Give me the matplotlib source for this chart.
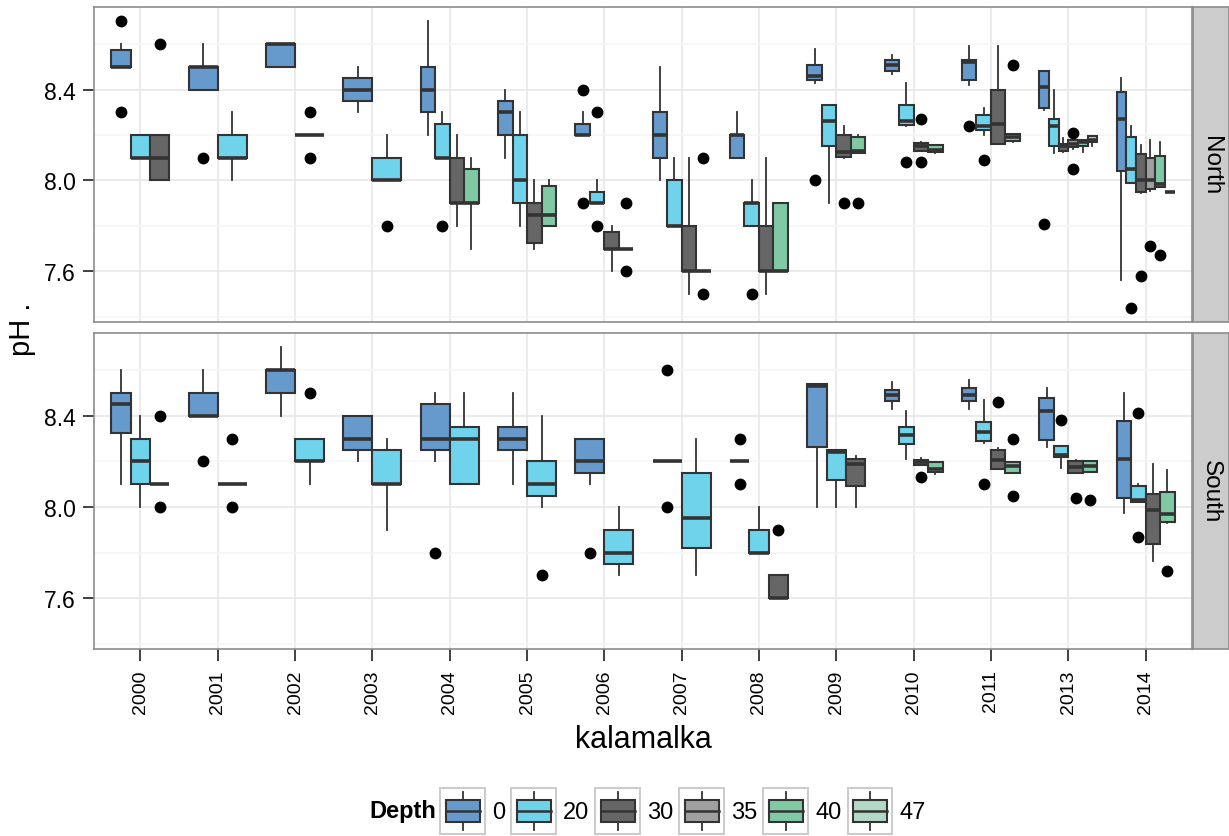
"""pH by year and depth for Kalamalka, North and South basins (ggplot-style boxplots)."""

import matplotlib
matplotlib.use("Agg")
import matplotlib.pyplot as plt
from matplotlib.patches import Rectangle, Patch
from matplotlib.lines import Line2D
from matplotlib.legend_handler import HandlerBase

plt.rcParams["font.family"] = ["Liberation Sans", "DejaVu Sans"]

YEARS = ["2000", "2001", "2002", "2003", "2004", "2005", "2006", "2007",
         "2008", "2009", "2010", "2011", "2013", "2014"]
DEPTHS = ["0", "20", "30", "35", "40", "47"]
DEPTH_COLORS = ["#6699cc", "#6fd3ec", "#666666", "#a0a0a0", "#7fc9a5", "#b3d8c6"]
PANELS = ["North", "South"]

# box stats per year: (lower whisker, q1, median, q3, upper whisker), None = no samples
north_0 = [(8.5, 8.5, 8.5, 8.575, 8.6), (8.4, 8.4, 8.5, 8.5, 8.6), (8.5, 8.5, 8.6, 8.6, 8.6),
           (8.3, 8.35, 8.4, 8.45, 8.5), (8.2, 8.3, 8.4, 8.5, 8.7), (8.1, 8.2, 8.3, 8.35, 8.4),
           (8.2, 8.2, 8.2, 8.25, 8.3), (8.0, 8.1, 8.2, 8.3, 8.5), (8.1, 8.1, 8.2, 8.2, 8.3),
           (8.43, 8.44, 8.46, 8.51, 8.58), (8.47, 8.48, 8.51, 8.53, 8.55),
           (8.42, 8.44, 8.52, 8.53, 8.59), (8.31, 8.32, 8.41, 8.48, 8.48),
           (7.56, 8.04, 8.27, 8.39, 8.45)]
north_0_out = [[8.7, 8.3], [8.1], [], [], [], [], [8.4, 7.9], [], [], [8.0], [], [8.24], [7.81], []]

north_20 = [(8.1, 8.1, 8.1, 8.2, 8.2), (8.0, 8.1, 8.1, 8.2, 8.3), (8.2, 8.2, 8.2, 8.2, 8.2),
            (8.0, 8.0, 8.0, 8.1, 8.2), (8.1, 8.1, 8.1, 8.25, 8.3), (7.8, 7.9, 8.0, 8.2, 8.3),
            (7.9, 7.9, 7.9, 7.95, 8.0), (7.8, 7.8, 7.8, 8.0, 8.1), (7.8, 7.8, 7.9, 7.9, 8.0),
            (7.9, 8.15, 8.26, 8.33, 8.33), (8.24, 8.245, 8.26, 8.33, 8.43),
            (8.2, 8.22, 8.24, 8.29, 8.32), (8.12, 8.15, 8.24, 8.27, 8.4),
            (7.99, 7.99, 8.05, 8.19, 8.24)]
north_20_out = [[], [], [8.3, 8.1], [7.8], [7.8], [], [8.3, 7.8], [], [7.5], [], [8.08], [8.09], [], [7.44]]

north_30 = [(8.0, 8.0, 8.1, 8.2, 8.2), None, None, None, (7.8, 7.9, 7.9, 8.1, 8.2),
            (7.7, 7.725, 7.85, 7.9, 8.0), (7.6, 7.7, 7.7, 7.775, 7.8), (7.5, 7.6, 7.6, 7.8, 8.1),
            (7.5, 7.6, 7.6, 7.8, 8.1), (8.1, 8.105, 8.125, 8.2, 8.24),
            (8.13, 8.13, 8.15, 8.165, 8.17), (8.16, 8.16, 8.25, 8.4, 8.59),
            (8.125, 8.13, 8.15, 8.16, 8.186), (7.945, 7.95, 8.0, 8.116, 8.156)]
north_30_out = [[8.6], [], [], [], [], [], [], [], [], [7.9], [8.27, 8.08], [], [], [7.58]]

north_35 = [None] * 12 + [(8.14, 8.146, 8.16, 8.179, 8.18), (7.955, 7.961, 8.0, 8.1, 8.179)]
north_35_out = [[]] * 12 + [[8.21, 8.05], [7.71]]

north_40 = [None, None, None, None, (7.7, 7.9, 7.9, 8.05, 8.1), (7.8, 7.8, 7.85, 7.975, 8.0),
            (7.7, 7.7, 7.7, 7.7, 7.7), (7.6, 7.6, 7.6, 7.6, 7.6), (7.6, 7.6, 7.6, 7.9, 7.9),
            (8.12, 8.12, 8.13, 8.19, 8.2), (8.12, 8.124, 8.135, 8.156, 8.156),
            (8.17, 8.175, 8.19, 8.204, 8.204), (8.124, 8.153, 8.17, 8.179, 8.179),
            (7.97, 7.971, 7.986, 8.109, 8.168)]
north_40_out = [[], [], [], [], [], [], [7.9, 7.6], [8.1, 7.5], [], [7.9], [], [8.51], [], [7.67]]

north_47 = [None] * 12 + [(8.153, 8.167, 8.18, 8.196, 8.196), (7.95, 7.95, 7.95, 7.95, 7.95)]
north_47_out = [[]] * 14

south_0 = [(8.1, 8.325, 8.45, 8.5, 8.6), (8.4, 8.4, 8.4, 8.5, 8.6), (8.4, 8.5, 8.6, 8.6, 8.7),
           (8.2, 8.25, 8.3, 8.4, 8.4), (8.2, 8.25, 8.3, 8.45, 8.5), (8.1, 8.25, 8.3, 8.35, 8.5),
           (8.1, 8.15, 8.2, 8.3, 8.3), (8.2, 8.2, 8.2, 8.2, 8.2), (8.2, 8.2, 8.2, 8.2, 8.2),
           (8.0, 8.265, 8.53, 8.54, 8.54), (8.43, 8.463, 8.49, 8.514, 8.548),
           (8.43, 8.463, 8.49, 8.52, 8.557), (8.262, 8.295, 8.422, 8.476, 8.52),
           (7.974, 8.039, 8.211, 8.376, 8.5)]
south_0_out = [[], [8.2], [], [], [7.8], [], [7.8], [8.6, 8.0], [8.3, 8.1], [], [], [], [], []]

south_20 = [(8.0, 8.1, 8.2, 8.3, 8.4), (8.1, 8.1, 8.1, 8.1, 8.1), (8.1, 8.2, 8.2, 8.3, 8.3),
            (7.9, 8.1, 8.1, 8.25, 8.3), (8.1, 8.1, 8.3, 8.35, 8.5), (8.0, 8.05, 8.1, 8.2, 8.4),
            (7.7, 7.75, 7.8, 7.9, 8.0), (7.7, 7.822, 7.952, 8.15, 8.3), (7.8, 7.8, 7.8, 7.9, 8.0),
            (8.0, 8.12, 8.24, 8.25, 8.25), (8.211, 8.276, 8.316, 8.352, 8.419),
            (8.28, 8.291, 8.328, 8.374, 8.469), (8.172, 8.218, 8.228, 8.266, 8.266),
            (8.022, 8.022, 8.03, 8.094, 8.1)]
south_20_out = [[], [8.3, 8.0], [8.5], [], [], [7.7], [], [], [], [], [], [8.1], [8.38], [8.41, 7.87]]

south_30 = [(8.1, 8.1, 8.1, 8.1, 8.1), None, None, None, None, None, None, None,
            (7.6, 7.6, 7.6, 7.7, 7.7), (8.0, 8.094, 8.189, 8.211, 8.225),
            (8.186, 8.186, 8.197, 8.207, 8.215), (8.167, 8.167, 8.207, 8.25, 8.26),
            (8.15, 8.15, 8.175, 8.2, 8.205), (7.762, 7.837, 7.988, 8.058, 8.189)]
south_30_out = [[8.4, 8.0], [], [], [], [], [], [], [], [7.9], [], [8.13], [8.46], [8.04], []]

south_35 = [None] * 14
south_35_out = [[]] * 14

south_40 = [None] * 10 + [(8.145, 8.153, 8.167, 8.196, 8.196), (8.15, 8.15, 8.18, 8.196, 8.196),
                          (8.153, 8.153, 8.18, 8.2, 8.2), (7.93, 7.934, 7.971, 8.065, 8.16)]
south_40_out = [[]] * 10 + [[], [8.3, 8.05], [8.03], [7.72]]

south_47 = [None] * 14
south_47_out = [[]] * 14

north_stats = [north_0, north_20, north_30, north_35, north_40, north_47]
north_outs = [north_0_out, north_20_out, north_30_out, north_35_out, north_40_out, north_47_out]
south_stats = [south_0, south_20, south_30, south_35, south_40, south_47]
south_outs = [south_0_out, south_20_out, south_30_out, south_35_out, south_40_out, south_47_out]

EDGE = "#333333"
W_PX, H_PX = 1229, 837


def ylimits():
    vals = []
    for group in north_stats + south_stats:
        for s in group:
            if s is not None:
                vals.extend(s)
    for group in north_outs + south_outs:
        for o in group:
            vals.extend(o)
    lo, hi = min(vals), max(vals)
    pad = (hi - lo) * 0.05
    return lo - pad, hi + pad


def draw_panel(ax, stats, outs):
    for i in range(len(YEARS)):
        present = [d for d in range(len(DEPTHS)) if stats[d][i] is not None]
        w = 0.75 / len(present)
        for k, d in enumerate(present):
            lo, q1, med, q3, hi = stats[d][i]
            box = dict(whislo=lo, q1=q1, med=med, q3=q3, whishi=hi, fliers=outs[d][i])
            pos = i - 0.375 + (k + 0.5) * w
            ax.bxp([box], positions=[pos], widths=w, patch_artist=True,
                   showcaps=False, manage_ticks=False,
                   boxprops=dict(facecolor=DEPTH_COLORS[d], edgecolor=EDGE, linewidth=1.5),
                   medianprops=dict(color=EDGE, linewidth=2.6, solid_capstyle="butt"),
                   whiskerprops=dict(color=EDGE, linewidth=1.3),
                   flierprops=dict(marker="o", markerfacecolor="black",
                                   markeredgecolor="black", markersize=7.5))


def style_axis(ax, ylim, bottom):
    ax.set_xlim(-0.6, len(YEARS) - 0.4)
    ax.set_ylim(*ylim)
    ax.set_facecolor("white")
    ax.set_yticks([7.6, 8.0, 8.4])
    ax.set_yticklabels(["7.6", "8.0", "8.4"])
    ax.set_yticks([7.4, 7.8, 8.2, 8.6], minor=True)
    ax.set_xticks(range(len(YEARS)))
    ax.grid(True, which="major", color="#e5e5e5", linewidth=1.1)
    ax.grid(True, which="minor", axis="y", color="#f5f5f5", linewidth=1.1)
    ax.set_axisbelow(True)
    for sp in ax.spines.values():
        sp.set_color("#8c8c8c")
        sp.set_linewidth(1.2)
    ax.tick_params(axis="y", which="major", length=8, width=1.3, color="#333333",
                   labelsize=16.5, pad=5)
    ax.tick_params(axis="x", which="major", length=8.5, width=1.3, color="#333333",
                   labelsize=14, pad=6)
    ax.tick_params(axis="y", which="minor", length=0)
    if bottom:
        ax.set_xticklabels(YEARS, rotation=90, va="top", ha="center")
    else:
        ax.tick_params(axis="x", length=0, labelbottom=False)


def add_strip(fig, ax, label):
    pos = ax.get_position()
    sax = fig.add_axes([pos.x1 + 1 / W_PX, pos.y0, 36 / W_PX, pos.height])
    sax.set_facecolor("#cccccc")
    sax.set_xticks([])
    sax.set_yticks([])
    for sp in sax.spines.values():
        sp.set_color("#8c8c8c")
        sp.set_linewidth(1.2)
    sax.text(0.5, 0.5, label, rotation=-90, ha="center", va="center",
             fontsize=17.5, transform=sax.transAxes)


class BoxKey(HandlerBase):
    def create_artists(self, legend, orig_handle, xdescent, ydescent,
                       width, height, fontsize, trans):
        x0, y0 = -xdescent, -ydescent
        bg = Rectangle((x0, y0), width, height, facecolor="white",
                       edgecolor="#cccccc", linewidth=1.5, transform=trans)
        bw, bh = width * 0.76, height * 0.5
        bx, by = x0 + (width - bw) / 2, y0 + height * 0.25
        xm = x0 + width / 2
        lo = Line2D([xm, xm], [y0 + height * 0.09, by], color=EDGE, lw=1.3, transform=trans)
        hi = Line2D([xm, xm], [by + bh, y0 + height * 0.91], color=EDGE, lw=1.3, transform=trans)
        box = Rectangle((bx, by), bw, bh, facecolor=orig_handle.get_facecolor(),
                        edgecolor=EDGE, linewidth=1.5, transform=trans)
        med = Line2D([bx, bx + bw], [by + bh / 2] * 2, color=EDGE, lw=1.8, transform=trans)
        return [bg, lo, hi, box, med]


fig = plt.figure(figsize=(W_PX / 100, H_PX / 100), dpi=100)
fig.patch.set_facecolor("white")

left, width = 94 / W_PX, 1098 / W_PX
ax_n = fig.add_axes([left, 1 - 323 / H_PX, width, 315 / H_PX])
ax_s = fig.add_axes([left, 1 - 650 / H_PX, width, 316 / H_PX])

ylim = ylimits()
draw_panel(ax_n, north_stats, north_outs)
draw_panel(ax_s, south_stats, south_outs)
style_axis(ax_n, ylim, bottom=False)
style_axis(ax_s, ylim, bottom=True)
add_strip(fig, ax_n, PANELS[0])
add_strip(fig, ax_s, PANELS[1])

fig.text(643 / W_PX, 1 - 740 / H_PX, "kalamalka", ha="center", va="center", fontsize=22)
fig.text(22 / W_PX, 1 - 329 / H_PX, "pH .", rotation=90, ha="center", va="center", fontsize=21)

handles = [Patch(facecolor=c) for c in DEPTH_COLORS]
leg = fig.legend(handles, DEPTHS, handler_map={Patch: BoxKey()}, loc="center",
                 bbox_to_anchor=(683 / W_PX, 1 - 812 / H_PX), ncol=len(DEPTHS),
                 frameon=False, fontsize=17, handlelength=1.9, handleheight=2.6,
                 handletextpad=0.3, columnspacing=0.25, borderpad=0)
fig.text(436 / W_PX, 1 - 812 / H_PX, "Depth", ha="right", va="center",
         fontsize=17, fontweight="bold")

fig.savefig("out.png", dpi=100)
